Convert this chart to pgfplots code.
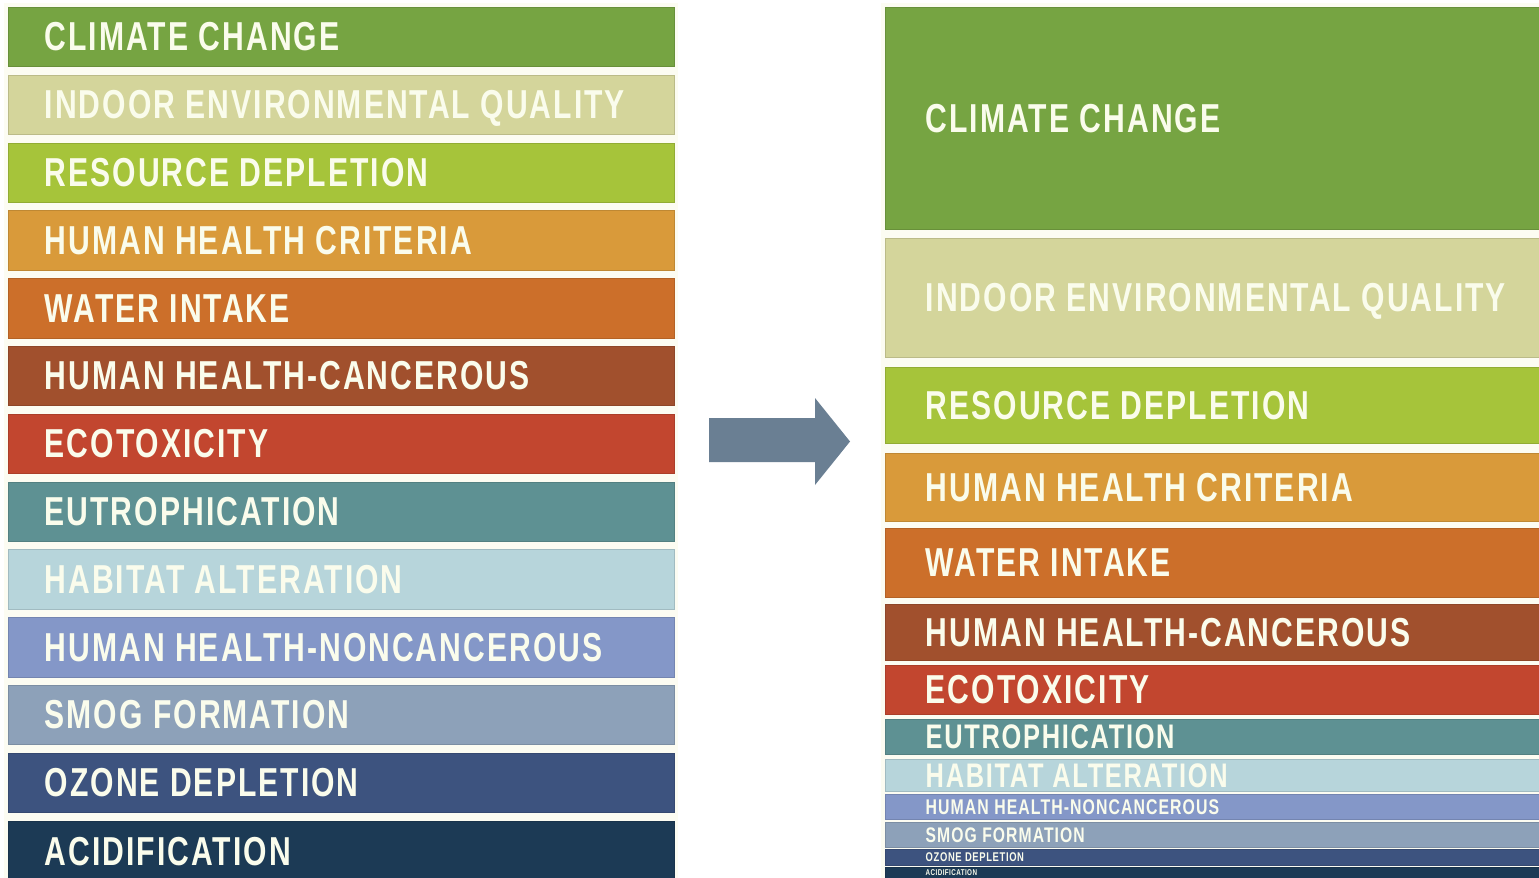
\documentclass[border=0pt]{standalone}
\usepackage{pgfplots}
\pgfplotsset{compat=1.18}
\usepackage{fontspec}
\setmainfont{Liberation Sans}
\newfontfamily\labfont{Liberation Sans}[FakeStretch=0.745,LetterSpace=5.0]
\definecolor{cClim}{RGB}{118,164,66}
\definecolor{cIndoor}{RGB}{212,213,155}
\definecolor{cRes}{RGB}{166,196,58}
\definecolor{cHHC}{RGB}{217,154,58}
\definecolor{cWater}{RGB}{204,111,42}
\definecolor{cCanc}{RGB}{161,80,45}
\definecolor{cEco}{RGB}{194,70,47}
\definecolor{cEutro}{RGB}{94,145,147}
\definecolor{cHab}{RGB}{183,213,219}
\definecolor{cNonc}{RGB}{132,151,200}
\definecolor{cSmog}{RGB}{141,161,185}
\definecolor{cOzone}{RGB}{61,83,127}
\definecolor{cAcid}{RGB}{28,58,85}
\definecolor{cArrow}{RGB}{106,127,147}
\definecolor{cTxt}{RGB}{250,252,236}
\definecolor{cGap}{RGB}{252,252,242}
% band: x0 x1 y0 y1 colour
\newcommand{\band}[5]{\addplot[fill=#5,draw=#5!88!black,line width=0.25pt] coordinates {(#1,#3) (#2,#3) (#2,#4) (#1,#4)} --cycle;}
% label: x ycenter size text
\newcommand{\lab}[4]{\node[anchor=base west,inner sep=0pt,text=cTxt,font=\labfont\bfseries\fontsize{#3}{#3}\selectfont] at (axis cs:#1,{#2+#3*1.2585}) {#4};}
\begin{document}
\begin{tikzpicture}
\begin{axis}[
  width=15.39cm, height=8.77cm, scale only axis,
  xmin=0, xmax=1539, ymin=0, ymax=877, y dir=reverse,
  hide axis, clip=true]
\addplot[fill=white,draw=none] coordinates {(0,0) (1539,0) (1539,877) (0,877)} --cycle;
\addplot[fill=cGap,draw=none] coordinates {(4,3) (678,3) (678,880) (4,880)} --cycle;
\addplot[fill=cGap,draw=none] coordinates {(881,3) (1545,3) (1545,880) (881,880)} --cycle;
% left column: equal weights
\band{8}{674}{7}{66}{cClim}
\band{8}{674}{75}{134}{cIndoor}
\band{8}{674}{143}{202}{cRes}
\band{8}{674}{210}{270}{cHHC}
\band{8}{674}{278}{338}{cWater}
\band{8}{674}{346}{405}{cCanc}
\band{8}{674}{414}{473}{cEco}
\band{8}{674}{482}{541}{cEutro}
\band{8}{674}{549}{609}{cHab}
\band{8}{674}{617}{677}{cNonc}
\band{8}{674}{685}{744}{cSmog}
\band{8}{674}{753}{812}{cOzone}
\band{8}{674}{821}{885}{cAcid}
% right column: weighted
\band{885}{1545}{7}{229}{cClim}
\band{885}{1545}{238}{357}{cIndoor}
\band{885}{1545}{367}{443}{cRes}
\band{885}{1545}{453}{521}{cHHC}
\band{885}{1545}{528}{597}{cWater}
\band{885}{1545}{604}{660}{cCanc}
\band{885}{1545}{665}{714}{cEco}
\band{885}{1545}{719}{754}{cEutro}
\band{885}{1545}{759}{791}{cHab}
\band{885}{1545}{794}{819}{cNonc}
\band{885}{1545}{822}{847}{cSmog}
\band{885}{1545}{849}{865}{cOzone}
\band{885}{1545}{867}{885}{cAcid}
% arrow
\addplot[fill=cArrow,draw=none] coordinates {(709,418) (815,418) (815,398) (850,441.5) (815,485) (815,462) (709,462)} --cycle;
% left labels
\lab{44}{36.5}{11.5}{CLIMATE CHANGE}
\lab{44}{104.5}{11.5}{INDOOR ENVIRONMENTAL QUALITY}
\lab{44}{172.5}{11.5}{RESOURCE DEPLETION}
\lab{44}{240}{11.5}{HUMAN HEALTH CRITERIA}
\lab{44}{308}{11.5}{WATER INTAKE}
\lab{44}{375.5}{11.5}{HUMAN HEALTH-CANCEROUS}
\lab{44}{443.5}{11.5}{ECOTOXICITY}
\lab{44}{511.5}{11.5}{EUTROPHICATION}
\lab{44}{579}{11.5}{HABITAT ALTERATION}
\lab{44}{647}{11.5}{HUMAN HEALTH-NONCANCEROUS}
\lab{44}{714.5}{11.5}{SMOG FORMATION}
\lab{44}{782.5}{11.5}{OZONE DEPLETION}
\lab{44}{851}{11.5}{ACIDIFICATION}
% right labels
\lab{925}{118}{11.5}{CLIMATE CHANGE}
\lab{925}{297.5}{11.5}{INDOOR ENVIRONMENTAL QUALITY}
\lab{925}{405}{11.5}{RESOURCE DEPLETION}
\lab{925}{487}{11.5}{HUMAN HEALTH CRITERIA}
\lab{925}{562.5}{11.5}{WATER INTAKE}
\lab{925}{632}{11.5}{HUMAN HEALTH-CANCEROUS}
\lab{925}{689.5}{11.5}{ECOTOXICITY}
\lab{925}{736.5}{9.7}{EUTROPHICATION}
\lab{925}{775}{9.7}{HABITAT ALTERATION}
\lab{925}{806.5}{6.05}{HUMAN HEALTH-NONCANCEROUS}
\lab{925}{834.5}{6.0}{SMOG FORMATION}
\lab{925}{857}{3.6}{OZONE DEPLETION}
\lab{925}{872.5}{2.4}{ACIDIFICATION}
\end{axis}
\end{tikzpicture}
\end{document}
